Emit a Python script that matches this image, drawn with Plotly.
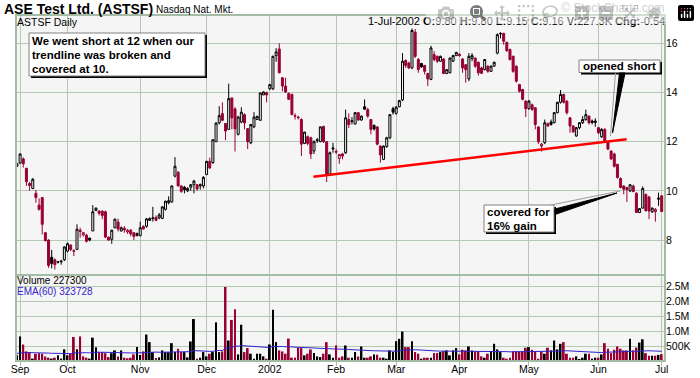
import plotly.graph_objects as go

# ---------------- data ----------------
TICK_IDX = [1, 16, 39, 60, 80, 101, 120, 140, 162, 184, 204]
TICK_TEXT = ["Sep", "Oct", "Nov", "Dec", "2002", "Feb", "Mar", "Apr", "May", "Jun", "Jul"]
PRICE_TICKS = [8, 10, 12, 14, 16]
VOL_TICKS = [500000, 1000000, 1500000, 2000000, 2500000]
VOL_TICK_TEXT = ["500K", "1.0M", "1.5M", "2.0M", "2.5M"]
LAST_DATE = "1-Jul-2002"

OPEN = [
    11.00, 11.13, 11.30, 10.92, 10.30, 10.10, 9.90, 9.42, 9.73, 8.30,
    8.00, 7.30, 7.20, 7.10, 7.12, 7.20, 7.55, 7.80, 7.57, 7.62,
    8.40, 8.20, 8.20, 8.08, 8.37, 9.20, 9.18, 9.18, 9.15, 8.12,
    8.03, 8.50, 8.73, 8.37, 8.48, 8.33, 8.40, 8.30, 8.18, 8.18,
    8.55, 8.56, 8.80, 8.88, 8.92, 8.90, 8.88, 9.25, 9.52, 9.55,
    10.60, 10.76, 10.20, 10.15, 10.00, 10.15, 10.25, 10.25, 10.20, 10.20,
    10.66, 11.20, 11.15, 12.00, 12.76, 13.14, 12.74, 12.50, 13.78, 13.33,
    12.30, 12.80, 13.10, 12.53, 11.95, 12.60, 12.90, 12.87, 13.90, 14.00,
    14.15, 14.15, 15.50, 15.77, 14.60, 14.26, 13.96, 13.92, 13.06, 13.00,
    12.90, 11.93, 12.20, 12.16, 11.62, 12.05, 12.00, 12.62, 12.00, 10.68,
    11.70, 11.60, 11.32, 11.50, 11.55, 12.90, 12.85, 12.72, 13.18, 12.88,
    13.42, 13.30, 12.90, 12.66, 12.60, 11.82, 11.28, 11.80, 12.16, 13.34,
    13.15, 13.42, 13.70, 15.30, 15.20, 15.00, 16.45, 15.34, 15.18, 15.10,
    14.77, 14.53, 15.54, 15.47, 15.27, 15.36, 14.77, 14.80, 15.27, 15.50,
    15.55, 15.36, 15.13, 14.55, 15.38, 15.40, 15.23, 15.00, 14.93, 15.07,
    14.86, 15.07, 15.60, 16.38, 16.40, 16.04, 15.75, 15.47, 15.07, 14.32,
    14.12, 13.65, 13.34, 13.50, 13.38, 12.60, 11.82, 11.96, 12.73, 12.80,
    12.77, 13.18, 13.60, 13.92, 13.65, 12.97, 12.64, 12.23, 12.57, 12.77,
    12.90, 13.04, 12.84, 12.78, 12.57, 12.20, 12.50, 12.00, 11.62, 11.50,
    11.08, 10.50, 10.20, 10.14, 10.00, 10.20, 9.90, 9.12, 9.30, 9.85,
    9.75, 9.15, 9.15, 9.66, 9.80,
]
HIGH = [
    11.15, 11.52, 11.36, 10.92, 10.37, 10.52, 10.04, 9.70, 9.73, 8.32,
    8.03, 7.60, 7.25, 7.15, 7.20, 7.75, 7.90, 7.82, 7.62, 8.64,
    8.50, 8.33, 8.25, 8.10, 9.42, 9.32, 9.20, 9.20, 9.20, 8.14,
    8.42, 8.87, 8.87, 8.55, 8.57, 8.45, 8.45, 8.30, 8.30, 8.75,
    8.60, 8.90, 8.92, 9.35, 9.00, 9.10, 9.37, 9.60, 9.78, 10.22,
    11.37, 10.80, 10.22, 10.20, 10.15, 10.27, 10.45, 10.28, 10.30, 10.60,
    11.22, 11.35, 12.10, 12.80, 13.44, 13.60, 12.74, 14.36, 13.78, 13.40,
    13.05, 13.40, 13.15, 12.55, 12.72, 13.20, 13.05, 14.00, 14.05, 14.03,
    14.35, 15.50, 15.80, 16.00, 14.62, 14.60, 14.00, 13.95, 13.15, 13.05,
    12.95, 12.40, 12.25, 12.20, 12.05, 12.15, 12.62, 12.65, 12.00, 11.60,
    11.95, 11.70, 11.50, 11.55, 13.30, 13.15, 13.00, 13.20, 13.20, 13.06,
    13.72, 13.38, 12.92, 12.70, 12.62, 11.85, 11.85, 12.20, 13.12, 13.42,
    13.45, 13.70, 15.60, 15.35, 15.25, 16.60, 16.58, 15.40, 15.20, 15.12,
    14.80, 15.90, 15.68, 15.50, 15.50, 15.40, 14.95, 15.42, 15.52, 15.65,
    15.60, 15.40, 15.15, 15.60, 15.60, 15.42, 15.25, 15.05, 15.36, 15.10,
    15.10, 15.25, 16.40, 16.45, 16.43, 16.06, 15.78, 15.50, 15.10, 14.35,
    14.15, 13.68, 13.70, 13.55, 13.40, 12.62, 11.95, 12.90, 12.78, 12.90,
    13.20, 13.62, 14.10, 13.95, 13.68, 13.00, 12.66, 12.60, 12.80, 13.04,
    13.30, 13.06, 12.90, 12.95, 12.60, 12.55, 12.55, 12.02, 11.65, 11.55,
    11.10, 10.55, 10.22, 10.16, 10.27, 10.25, 9.95, 9.30, 10.18, 9.90,
    9.80, 9.32, 9.30, 9.93, 9.80,
]
LOW = [
    10.98, 11.10, 10.95, 10.20, 10.00, 10.07, 9.52, 9.20, 8.23, 7.94,
    6.87, 6.85, 6.80, 7.05, 7.00, 7.15, 7.50, 7.55, 7.35, 7.62,
    8.10, 8.15, 7.90, 7.95, 8.37, 9.20, 9.00, 8.85, 8.08, 7.98,
    7.85, 8.48, 8.35, 8.35, 8.30, 8.25, 8.15, 8.00, 8.15, 8.15,
    8.43, 8.50, 8.78, 8.75, 8.78, 8.85, 8.85, 9.20, 9.45, 9.52,
    10.55, 10.18, 9.92, 9.90, 9.95, 10.00, 9.90, 10.00, 10.05, 10.10,
    10.65, 10.90, 11.10, 12.00, 12.70, 12.83, 12.06, 12.50, 12.50, 11.60,
    12.25, 12.75, 12.50, 11.70, 11.90, 12.55, 12.88, 12.85, 13.90, 13.60,
    14.10, 14.10, 15.25, 14.78, 14.05, 13.98, 13.70, 13.08, 12.90, 12.90,
    11.42, 11.90, 11.85, 11.30, 11.50, 11.95, 11.98, 11.95, 10.36, 10.65,
    11.55, 11.50, 11.10, 11.28, 11.50, 12.55, 12.70, 12.70, 12.85, 12.85,
    13.30, 12.97, 12.30, 12.45, 11.85, 11.15, 11.25, 11.75, 12.10, 13.10,
    13.10, 13.40, 13.65, 15.00, 14.95, 14.95, 15.40, 14.80, 15.00, 14.73,
    14.26, 14.50, 15.27, 15.20, 15.25, 14.75, 14.75, 14.78, 15.25, 15.48,
    15.45, 14.80, 14.40, 14.46, 15.27, 15.00, 14.69, 14.75, 14.90, 14.80,
    14.84, 15.05, 15.55, 16.20, 15.94, 15.65, 15.30, 14.80, 14.40, 14.00,
    13.68, 13.00, 13.30, 13.25, 12.50, 11.90, 11.60, 11.90, 12.60, 12.65,
    12.75, 13.15, 13.55, 13.55, 13.10, 12.36, 12.36, 12.20, 12.50, 12.72,
    12.85, 12.70, 12.70, 12.60, 12.30, 12.15, 11.98, 11.65, 11.25, 10.95,
    10.50, 10.10, 9.86, 9.55, 9.95, 9.95, 9.10, 9.10, 9.28, 9.15,
    8.85, 9.10, 8.75, 9.39, 9.15,
]
CLOSE = [
    11.10, 11.50, 11.10, 10.37, 10.22, 10.47, 9.73, 9.25, 8.64, 7.98,
    6.97, 7.05, 7.00, 7.12, 7.14, 7.72, 7.85, 7.62, 7.55, 8.44,
    8.35, 8.30, 7.95, 8.00, 9.15, 9.30, 9.09, 9.00, 8.12, 8.00,
    8.40, 8.85, 8.45, 8.50, 8.42, 8.40, 8.25, 8.15, 8.27, 8.50,
    8.45, 8.86, 8.88, 8.90, 8.80, 9.02, 9.35, 9.58, 9.60, 10.20,
    11.00, 10.20, 9.98, 10.05, 10.10, 10.25, 10.40, 10.08, 10.25, 10.55,
    11.20, 10.93, 12.08, 12.75, 13.06, 12.87, 12.43, 13.75, 12.97, 12.52,
    13.00, 13.20, 12.76, 12.00, 12.70, 13.00, 13.03, 13.98, 14.02, 13.90,
    14.32, 15.47, 15.65, 14.80, 14.26, 14.02, 13.72, 13.10, 13.04, 12.98,
    11.90, 12.39, 11.93, 11.50, 12.00, 12.07, 12.60, 12.00, 10.68, 11.55,
    11.74, 11.58, 11.48, 11.42, 12.97, 12.70, 12.82, 13.18, 12.88, 13.04,
    13.32, 13.04, 12.50, 12.52, 11.90, 11.46, 11.82, 12.16, 13.10, 13.20,
    13.40, 13.67, 15.27, 15.10, 15.00, 16.52, 15.47, 14.93, 15.04, 14.86,
    14.55, 15.81, 15.34, 15.27, 15.47, 14.77, 14.93, 15.40, 15.50, 15.63,
    15.50, 15.00, 14.93, 15.47, 15.50, 15.07, 14.80, 14.78, 15.34, 14.86,
    15.07, 15.23, 16.35, 16.40, 16.08, 15.70, 15.34, 14.86, 14.46, 14.05,
    13.72, 13.34, 13.65, 13.31, 12.70, 12.00, 11.90, 12.77, 12.64, 12.70,
    13.18, 13.60, 13.92, 13.60, 13.18, 12.64, 12.40, 12.57, 12.77, 12.90,
    13.10, 12.77, 12.78, 12.84, 12.36, 12.50, 12.03, 11.70, 11.30, 11.00,
    10.54, 10.14, 10.07, 10.05, 10.25, 9.97, 9.12, 9.28, 10.10, 9.20,
    9.18, 9.30, 9.25, 9.70, 9.16,
]
VOLUME_K = [
    190, 820, 550, 320, 300, 80, 240, 260, 240, 150,
    110, 80, 110, 190, 80, 390, 190, 240, 800, 390,
    820, 155, 110, 80, 780, 460, 300, 300, 260, 130,
    260, 353, 150, 353, 110, 90, 110, 220, 464, 200,
    320, 883, 630, 298, 100, 120, 353, 298, 298, 596,
    298, 408, 298, 298, 120, 651, 1400, 77, 110, 298,
    155, 243, 298, 1290, 298, 320, 2470, 684, 1370, 1730,
    220, 1210, 298, 430, 243, 77, 243, 243, 155, 77,
    552, 1710, 630, 353, 320, 243, 750, 110, 110, 442,
    430, 188, 243, 386, 265, 155, 130, 243, 630, 220,
    110, 519, 110, 155, 519, 110, 110, 300, 150, 486,
    110, 110, 155, 220, 210, 110, 110, 77, 353, 300,
    660, 740, 983, 464, 464, 660, 298, 243, 77, 110,
    110, 110, 265, 265, 298, 330, 353, 188, 353, 430,
    220, 375, 353, 486, 353, 320, 320, 155, 110, 243,
    298, 574, 386, 298, 110, 77, 110, 320, 320, 320,
    320, 442, 464, 375, 320, 77, 320, 243, 442, 353,
    684, 386, 574, 630, 243, 110, 110, 155, 44, 110,
    243, 243, 77, 110, 110, 220, 596, 408, 265, 375,
    486, 408, 353, 353, 740, 353, 450, 615, 725, 262,
    175, 175, 175, 205, 227.3,
]
EMA_PERIOD = 60
EMA_SEED_K = 255          # level of the EMA line at the left edge of the chart
EMA_LAST_TEXT = "323728"  # value printed in the reference legend
TREND_X = [93.8, 192.9]   # trendline end points (bar index, price)
TREND_Y = [10.57, 12.10]

# ---------------- layout constants ----------------
W, H = 700, 378
L_M, R_M, T_M, B_M = 16, 35, 15, 17
PLOT_W = W - L_M - R_M
PLOT_H = H - T_M - B_M
SPLIT_Y = 275


def px(x):
    return (x - L_M) / PLOT_W


def py(y):
    return (H - B_M - y) / PLOT_H


RED = "#990033"
BLACK = "#000000"
GRID = "#b4c8b4"
BORDER = "#a4bca4"
BG = "#f5f5f5"
BLUE = "#3322cc"
FONT = "Liberation Sans, Arial, sans-serif"

n = len(CLOSE)
X = list(range(n))
VOL = [v * 1000 for v in VOLUME_K]
COLORS = [BLACK] + [BLACK if CLOSE[i] >= CLOSE[i - 1] else RED for i in range(1, n)]

alpha = 2.0 / (EMA_PERIOD + 1)
ema = []
prev = EMA_SEED_K * 1000
for v in VOL:
    prev = prev + alpha * (v - prev)
    ema.append(prev)


def pick(arr, col):
    return [arr[i] if COLORS[i] == col else None for i in range(n)]


fig = go.Figure()
for col in (BLACK, RED):
    fig.add_trace(go.Candlestick(
        x=X, open=pick(OPEN, col), high=pick(HIGH, col),
        low=pick(LOW, col), close=pick(CLOSE, col),
        xaxis="x2", yaxis="y",
        increasing=dict(line=dict(color=col, width=1), fillcolor=BG),
        decreasing=dict(line=dict(color=col, width=1), fillcolor=col),
        whiskerwidth=0, showlegend=False, hoverinfo="skip"))

fig.add_trace(go.Scatter(x=TREND_X, y=TREND_Y, mode="lines",
                         line=dict(color="#ff0000", width=2.5),
                         xaxis="x2", yaxis="y", showlegend=False, hoverinfo="skip"))

fig.add_trace(go.Bar(x=X, y=VOL, marker=dict(color=COLORS, line=dict(width=0)),
                     width=0.6, xaxis="x", yaxis="y2", showlegend=False, hoverinfo="skip"))
fig.add_trace(go.Scatter(x=X, y=ema, mode="lines", line=dict(color=BLUE, width=1),
                         xaxis="x", yaxis="y2", showlegend=False, hoverinfo="skip"))

PRICE_RANGE = [6.58, 17.15]
minor_ticks = [round(6.8 + 0.4 * k, 2) for k in range(27)]

fig.update_layout(
    width=W, height=H, margin=dict(l=L_M, r=R_M, t=T_M, b=B_M, autoexpand=False),
    paper_bgcolor="white", plot_bgcolor=BG, showlegend=False,
    font=dict(family=FONT, size=11, color="black"),
    boxgap=0.1,
    xaxis=dict(domain=[0, 1], range=[-0.3, 205.05], anchor="y2",
               tickmode="array", tickvals=TICK_IDX, ticktext=TICK_TEXT,
               ticks="outside", ticklen=4, tickcolor=BORDER, ticklabelstandoff=-6,
               showgrid=True, gridcolor=GRID, gridwidth=1, zeroline=False,
               showline=False, tickfont=dict(size=10.5), rangeslider=dict(visible=False),
               automargin=False),
    xaxis2=dict(matches="x", anchor="y", tickmode="array", tickvals=TICK_IDX,
                showticklabels=False, ticks="", showgrid=True, gridcolor=GRID,
                zeroline=False, rangeslider=dict(visible=False), automargin=False),
    yaxis=dict(domain=[py(SPLIT_Y), 1], range=PRICE_RANGE, side="right", anchor="x2",
               tickmode="array", tickvals=PRICE_TICKS, showgrid=True, gridcolor=GRID,
               zeroline=False, ticks="", tickfont=dict(size=10.5), automargin=False),
    yaxis2=dict(domain=[0, py(SPLIT_Y)], range=[0, 2.87e6], side="right", anchor="x",
                tickmode="array", tickvals=VOL_TICKS, ticktext=VOL_TICK_TEXT,
                showgrid=True, gridcolor=GRID, zeroline=False, ticks="",
                tickfont=dict(size=10.5), automargin=False),
    yaxis3=dict(overlaying="y", side="left", anchor="x2", range=PRICE_RANGE,
                tickmode="array", tickvals=minor_ticks, ticks="inside", ticklen=4,
                tickcolor="#707070", showticklabels=False, showgrid=False, zeroline=False,
                automargin=False),
)

shapes = []
# panel borders
shapes.append(dict(type="rect", xref="paper", yref="paper", x0=0, x1=1, y0=py(SPLIT_Y), y1=1,
                   line=dict(color=BORDER, width=2), layer="above"))
shapes.append(dict(type="rect", xref="paper", yref="paper", x0=0, x1=1, y0=0, y1=py(SPLIT_Y),
                   line=dict(color=BORDER, width=2), layer="above"))


def box(x0, y0, x1, y1):
    shapes.append(dict(type="rect", xref="paper", yref="paper",
                       x0=px(x0 + 2), x1=px(x1 + 2), y0=py(y1 + 2), y1=py(y0 + 2),
                       fillcolor="black", line=dict(width=0), layer="above"))
    shapes.append(dict(type="rect", xref="paper", yref="paper",
                       x0=px(x0), x1=px(x1), y0=py(y1), y1=py(y0),
                       fillcolor="white", line=dict(color="#808080", width=1), layer="above"))


def tri(pts, color):
    path = "M " + " L ".join(f"{px(a):.5f},{py(b):.5f}" for a, b in pts) + " Z"
    shapes.append(dict(type="path", xref="paper", yref="paper", path=path,
                       fillcolor=color, line=dict(color=color, width=1), layer="above"))


def seg(p0, p1, color, width):
    shapes.append(dict(type="line", xref="paper", yref="paper",
                       x0=px(p0[0]), y0=py(p0[1]), x1=px(p1[0]), y1=py(p1[1]),
                       line=dict(color=color, width=width), layer="above"))


box(29, 33, 205, 76)
box(579, 60, 660, 72.5)
box(484, 205, 554, 232)
# callout pointers
seg((615.5, 73), (610.5, 136), "#9a9a9a", 1)
tri([(619.5, 73), (625, 73), (612.5, 133)], "black")
seg((551, 205), (620, 191), "#9a9a9a", 1)
tri([(555, 209), (555, 214.5), (617, 193)], "black")

fig.update_layout(shapes=shapes)

ann = []


def text(t, x, y, size=11, color="black", xanchor="left"):
    ann.append(dict(text=t, x=px(x), y=py(y), xref="paper", yref="paper",
                    xanchor=xanchor, yanchor="middle", showarrow=False, borderpad=0,
                    font=dict(size=size, color=color, family=FONT)))


text("<b>ASE Test Ltd. (ASTSF)</b>", 3, 9, size=14)
text("Nasdaq Nat. Mkt.", 155, 10, size=10)
text("© StockCharts.com", 666, 8, size=12, color="#a0a0a0", xanchor="right")
text("ASTSF Daily", 16, 21.5, size=10.5)
chg = CLOSE[-1] - CLOSE[-2]
stats = (f"{LAST_DATE} <b>O:</b>{OPEN[-1]:.2f} <b>H:</b>{HIGH[-1]:.2f} "
         f"<b>L:</b>{LOW[-1]:.2f} <b>C:</b>{CLOSE[-1]:.2f} "
         f"<b>V:</b>{VOL[-1] / 1000:.1f}K <b>Chg:</b>{chg:.2f}")
text(stats, 666, 21, size=11, xanchor="right")
text("<b>We went short at 12 when our</b>", 31, 41.5, size=11.5)
text("<b>trendline was broken and</b>", 31, 55, size=11.5)
text("<b>covered at 10.</b>", 31, 68.5, size=11.5)
text("<b>opened short</b>", 619.5, 66.3, size=11.5, xanchor="center")
text("<b>covered for</b>", 486, 212, size=11.5)
text("<b>16% gain</b>", 486, 226, size=11.5)
text(f"Volume {int(round(VOL[-1]))}", 16, 280.5, size=10)
text(f"EMA({EMA_PERIOD}) {EMA_LAST_TEXT}", 16, 291, size=10, color=BLUE)

fig.update_layout(annotations=ann)

# the page is photographed from its top-left corner: drop the default body margin
fig.write_html("out.html", post_script="document.body.style.margin='0';")
